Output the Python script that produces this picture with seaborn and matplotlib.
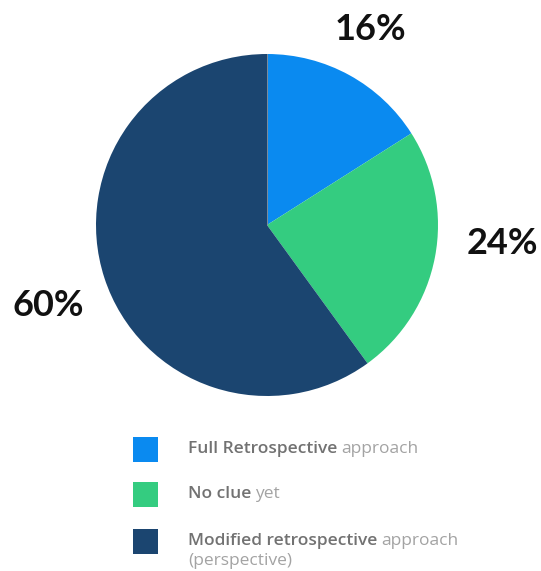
import matplotlib
matplotlib.use("Agg")
import matplotlib.pyplot as plt
from matplotlib.patches import Rectangle
import seaborn as sns

# Survey answers
categories = ["Full Retrospective", "No clue", "Modified retrospective"]
category_tails = ["approach", "yet", "approach"]
shares = [16, 24, 60]
colors = ["#0A8AF0", "#34CC80", "#1B4570"]

sns.set_theme(style="white")
plt.rcParams["font.family"] = ["Open Sans", "DejaVu Sans"]

W, H = 541, 571
fig = plt.figure(figsize=(W / 100, H / 100), dpi=100)
ax = fig.add_axes([0, 0, 1, 1])

cx, cy, r = 267, H - 225, 171
ax.pie(shares, colors=colors, startangle=90, counterclock=False,
       center=(cx, cy), radius=r, frame=True,
       wedgeprops=dict(linewidth=0))
# thin seam at twelve o'clock
ax.plot([cx, cx], [cy, cy + r], color="#7f8c99", lw=0.7)
ax.set_xlim(0, W)
ax.set_ylim(0, H)
ax.set_aspect("equal")
ax.axis("off")

# percentage callouts
label_pos = [(370, 30), (502, 243), (48, 305)]
for v, (x, y) in zip(shares, label_pos):
    ax.text(x, H - y, f"{v}%", ha="center", va="center", fontsize=26,
            fontweight="bold", color="#111111", family=["Lato", "DejaVu Sans"])

# legend
fig.canvas.draw()
renderer = fig.canvas.get_renderer()
legend_rows = [449, 494, 541]
fs = 12.5
for name, tail, col, yc in zip(categories, category_tails, colors, legend_rows):
    ax.add_patch(Rectangle((133, H - yc - 12.5), 25, 25, color=col, lw=0))
    t1 = ax.text(188, H - yc, name, ha="left", va="center", fontsize=fs,
                 fontweight="semibold", color="#727272")
    bb = t1.get_window_extent(renderer)
    x2 = ax.transData.inverted().transform((bb.x1, 0))[0]
    ax.text(x2 + 4, H - yc, tail, ha="left", va="center", fontsize=fs,
            color="#a3a3a3")
ax.text(188, H - 561, "(perspective)", ha="left", va="center", fontsize=fs,
        color="#a3a3a3")

fig.savefig("out.png", dpi=100)
